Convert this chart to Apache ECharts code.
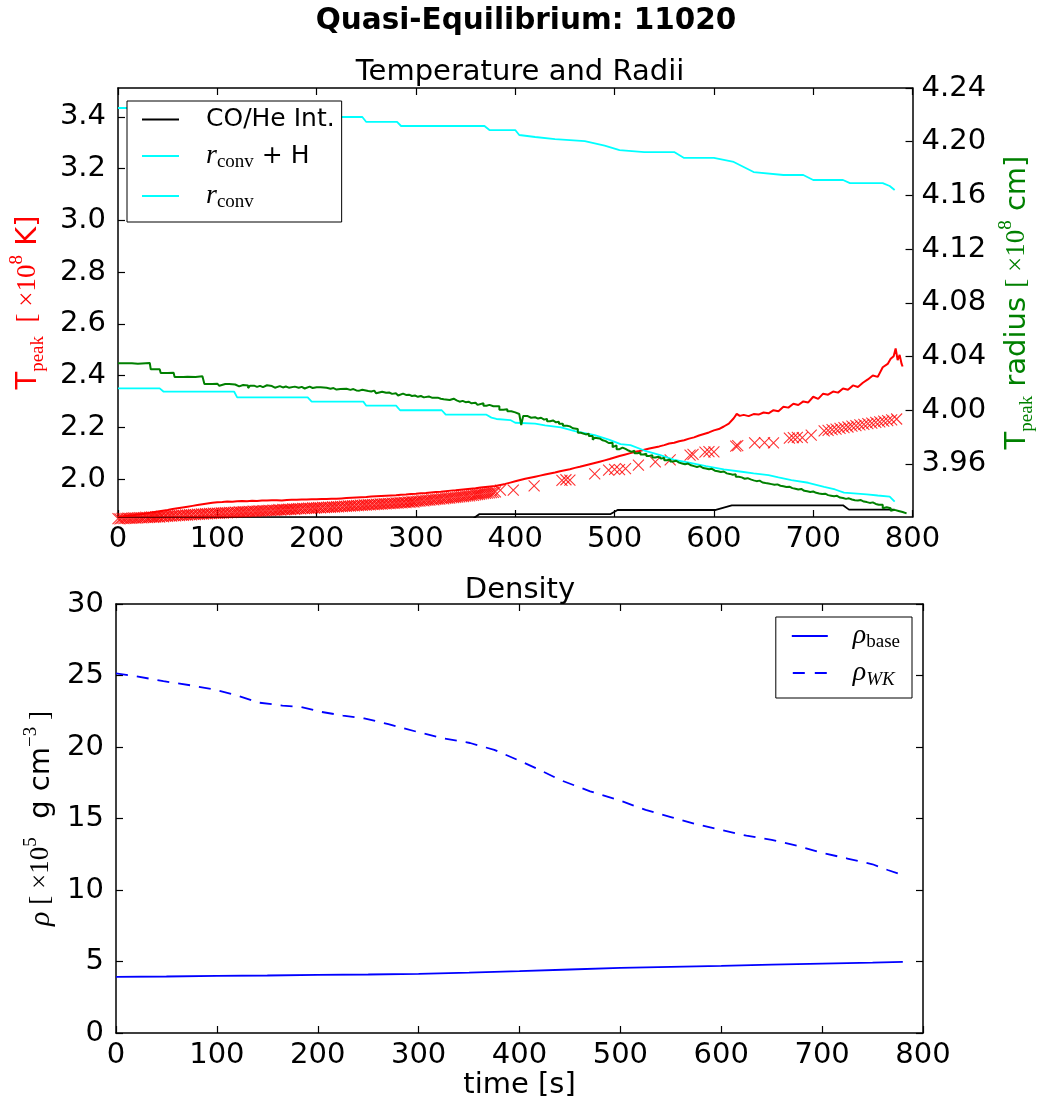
<!DOCTYPE html>
<html>
<head>
<meta charset="utf-8">
<script src="https://cdn.jsdelivr.net/npm/echarts@6/dist/echarts.min.js"></script>
<style>
html, body { margin: 0; padding: 0; background: #fff; }
#chart { width: 1045px; height: 1109px; }
</style>
</head>
<body>
<div id="chart"></div>
<script>
// ---- Temperature panel: peak temperature (left axis, 1e8 K) ----
const tempPeak = [
  [0,1.853],[5,1.855],[10,1.858],[15,1.860],[20,1.863],[25,1.865],[30,1.868],[35,1.871],[40,1.874],[45,1.877],
  [50,1.880],[55,1.884],[60,1.887],[65,1.890],[70,1.893],[75,1.896],[80,1.899],[85,1.902],[90,1.905],[95,1.908],
  [100,1.910],[105,1.911],[110,1.913],[115,1.912],[120,1.914],[125,1.915],[130,1.914],[135,1.916],[140,1.915],[145,1.917],
  [150,1.917],[155,1.918],[160,1.918],[165,1.917],[170,1.919],[175,1.920],[180,1.920],[185,1.921],[190,1.921],[195,1.922],
  [200,1.922],[205,1.923],[210,1.923],[215,1.924],[220,1.924],[225,1.925],[230,1.926],[235,1.927],[240,1.928],[245,1.929],
  [250,1.930],[255,1.932],[260,1.933],[265,1.934],[270,1.935],[275,1.936],[280,1.937],[285,1.939],[290,1.940],[295,1.942],
  [300,1.943],[305,1.945],[310,1.946],[315,1.948],[320,1.950],[325,1.951],[330,1.953],[335,1.955],[340,1.956],[345,1.958],
  [350,1.960],[355,1.962],[360,1.964],[365,1.967],[370,1.969],[375,1.971],[380,1.973],[385,1.977],[390,1.981],[395,1.986],
  [400,1.991],[405,1.996],[410,2.001],[415,2.005],[420,2.009],[425,2.013],[430,2.017],[435,2.021],[440,2.025],[445,2.030],
  [450,2.034],[455,2.038],[460,2.043],[465,2.047],[470,2.052],[475,2.057],[480,2.062],[485,2.067],[490,2.072],[495,2.077],
  [500,2.083],[505,2.089],[510,2.094],[515,2.099],[520,2.104],[525,2.108],[530,2.113],[535,2.118],[540,2.122],[545,2.126],
  [550,2.131],[555,2.137],[560,2.140],[565,2.146],[570,2.150],[575,2.156],[580,2.161],[585,2.168],[590,2.174],[595,2.180],
  [600,2.188],[605,2.193],[610,2.203],[615,2.214],[620,2.235],[623,2.252],[626,2.244],[630,2.248],[635,2.243],[640,2.251],
  [645,2.249],[650,2.257],[655,2.254],[660,2.266],[665,2.262],[670,2.279],[675,2.276],[680,2.291],[685,2.286],[690,2.300],
  [695,2.296],[700,2.318],[705,2.310],[710,2.330],[715,2.326],[720,2.338],[725,2.334],[730,2.350],[735,2.345],[740,2.362],
  [745,2.356],[750,2.372],[755,2.385],[760,2.400],[765,2.395],[770,2.432],[775,2.445],[778,2.465],[781,2.475],[783,2.505],
  [785,2.460],[787,2.480],[789,2.445],[790,2.435]
];

// Estimated peak temperature (cross markers, left axis)
const tempMarkers = [
  [0,1.847],[2,1.846],[4,1.848],[6,1.847],[8,1.848],[10,1.849],[12,1.848],[14,1.849],[16,1.850],[18,1.849],
  [20,1.850],[22,1.851],[24,1.850],[26,1.851],[28,1.852],[30,1.851],[32,1.852],[34,1.853],[36,1.852],[38,1.853],
  [40,1.854],[42,1.853],[44,1.855],[46,1.854],[48,1.856],[50,1.855],[52,1.857],[54,1.856],[56,1.858],[58,1.857],
  [60,1.859],[62,1.858],[64,1.860],[66,1.859],[68,1.861],[70,1.860],[72,1.862],[74,1.861],[76,1.863],[78,1.862],
  [80,1.864],[82,1.863],[84,1.865],[86,1.864],[88,1.866],[90,1.865],[92,1.867],[94,1.866],[96,1.868],[98,1.867],
  [100,1.868],[102,1.867],[104,1.869],[106,1.868],[108,1.870],[110,1.869],[112,1.871],[114,1.870],[116,1.871],[118,1.872],
  [120,1.871],[122,1.873],[124,1.872],[126,1.874],[128,1.873],[130,1.874],[132,1.875],[134,1.874],[136,1.876],[138,1.875],
  [140,1.876],[142,1.877],[144,1.876],[146,1.878],[148,1.877],[150,1.878],[152,1.879],[154,1.878],[156,1.880],[158,1.879],
  [160,1.880],[162,1.881],[164,1.880],[166,1.882],[168,1.881],[170,1.882],[172,1.883],[174,1.882],[176,1.884],[178,1.883],
  [180,1.884],[182,1.885],[184,1.884],[186,1.886],[188,1.885],[190,1.886],[192,1.887],[194,1.886],[196,1.888],[198,1.887],
  [200,1.888],[202,1.889],[204,1.888],[206,1.890],[208,1.889],[210,1.890],[212,1.891],[214,1.890],[216,1.892],[218,1.891],
  [220,1.893],[222,1.892],[224,1.894],[226,1.893],[228,1.895],[230,1.894],[232,1.896],[234,1.895],[236,1.897],[238,1.896],
  [240,1.898],[242,1.897],[244,1.899],[246,1.898],[248,1.900],[250,1.899],[252,1.901],[254,1.900],[256,1.902],[258,1.901],
  [260,1.903],[262,1.902],[264,1.904],[266,1.903],[268,1.905],[270,1.904],[272,1.906],[274,1.905],[276,1.907],[278,1.906],
  [280,1.908],[282,1.907],[284,1.909],[286,1.908],[288,1.910],[290,1.909],[292,1.911],[294,1.910],[296,1.912],[298,1.911],
  [300,1.913],[302,1.914],[304,1.914],[306,1.916],[308,1.915],[310,1.917],[312,1.918],[314,1.918],[316,1.920],[318,1.919],
  [320,1.921],[322,1.922],[324,1.922],[326,1.924],[328,1.923],[330,1.925],[332,1.926],[334,1.926],[336,1.928],[338,1.928],
  [340,1.929],[342,1.930],[344,1.931],[346,1.932],[348,1.932],[350,1.934],[352,1.935],[354,1.935],[356,1.937],[358,1.937],
  [360,1.939],[362,1.940],[364,1.941],[366,1.942],[368,1.943],[370,1.944],[372,1.945],[374,1.946],[376,1.947],[378,1.948],
  [380,1.950],
  [385,1.957],[398,1.957],[419,1.973],[447,1.995],[451,1.997],[455,1.996],[480,2.020],[494,2.034],[500,2.037],[505,2.036],
  [511,2.040],[524,2.054],[541,2.066],[556,2.074],[576,2.092],[579,2.095],[591,2.104],[595,2.106],[600,2.105],[622,2.127],
  [624,2.129],[641,2.140],[651,2.141],[660,2.140],[676,2.158],[680,2.160],[684,2.161],[689,2.160],[698,2.170],
  [711,2.186],[715,2.188],[719,2.191],[723,2.193],[727,2.196],[731,2.199],[735,2.201],[739,2.204],[743,2.206],[747,2.209],
  [751,2.211],[755,2.214],[759,2.216],[763,2.219],[767,2.221],[771,2.224],[775,2.226],[779,2.229],[784,2.232]
];

// ---- Radii (right axis, 1e8 cm) ----
const coHeInterface = [
  [0,3.9195],[358,3.9195],[364,3.9227],[496,3.9227],[503,3.9257],[601,3.9257],[618,3.9292],[730,3.9292],[736,3.9260],[782,3.9260]
];

const rConvPlusH = [
  [0,4.2251],[118,4.2251],[122,4.2184],[246,4.2184],[250,4.2147],[281,4.2147],[285,4.2117],[369,4.2117],[374,4.2087],
  [400,4.2087],[404,4.2050],[420,4.2035],[440,4.2020],[470,4.2005],[490,4.1970],[505,4.1938],[530,4.1923],[560,4.1923],
  [570,4.1879],[600,4.1879],[620,4.1849],[640,4.1774],[670,4.1752],[690,4.1752],[700,4.1715],[730,4.1715],[737,4.1692],
  [770,4.1692],[777,4.1670],[782,4.1640]
];

const rConv = [
  [0,4.0163],[42,4.0163],[46,4.0138],[117,4.0138],[120,4.0096],[191,4.0096],[195,4.0064],[247,4.0064],[250,4.0034],
  [280,4.0034],[284,4.0000],[326,4.0000],[330,3.9967],[371,3.9967],[376,3.9945],[381,3.9935],[395,3.9927],[400,3.9907],
  [420,3.9900],[430,3.9888],[446,3.9873],[460,3.9845],[480,3.9815],[495,3.9780],[506,3.9748],[516,3.9740],[530,3.9700],
  [546,3.9666],[560,3.9630],[575,3.9610],[592,3.9584],[610,3.9560],[628,3.9542],[640,3.9530],[655,3.9517],[665,3.9500],
  [678,3.9480],[695,3.9460],[711,3.9430],[722,3.9410],[731,3.9386],[754,3.9374],[765,3.9365],[777,3.9356],[782,3.9319]
];

const tPeakRadius = [
  [0,4.0350],[10,4.0350],[14,4.0346],[20,4.0352],[32,4.0350],[33,4.0305],[42,4.0305],[43,4.0277],[50,4.0280],[56,4.0277],[57,4.0247],
  [66,4.0250],[70,4.0247],[78,4.0247],[80,4.0253],[85,4.0247],[87,4.0195],[90,4.0186],[92,4.0196],[95,4.0198],[100,4.0195],[102,4.0182],[104,4.0195],
  [108,4.0188],[110,4.0196],[112,4.0192],[118,4.0190],[120,4.0178],[122,4.0188],[126,4.0181],[128,4.0185],[131,4.0165],[133,4.0183],[137,4.0174],[140,4.0182],
  [143,4.0172],[146,4.0186],[150,4.0176],[152,4.0180],[155,4.0168],[158,4.0172],[160,4.0180],[163,4.0170],[166,4.0177],[169,4.0168],[172,4.0166],[174,4.0176],
  [178,4.0168],[182,4.0174],[185,4.0162],[188,4.0168],[190,4.0176],[193,4.0166],[196,4.0172],[200,4.0165],[202,4.0172],
  [204,4.0158],[206,4.0168],[210,4.0160],[214,4.0165],[217,4.0154],[220,4.0158],[224,4.0146],[226,4.0160],[230,4.0152],[234,4.0158],[237,4.0148],[240,4.0146],[243,4.0153],[246,4.0144],[252,4.0140],
  [255,4.0146],[258,4.0138],[260,4.0126],[262,4.0138],[266,4.0130],[270,4.0132],[273,4.0122],[276,4.0126],[280,4.0122],[282,4.0110],[284,4.0124],[287,4.0114],[290,4.0116],[293,4.0106],[296,4.0110],
  [299,4.0100],[302,4.0106],[305,4.0096],[308,4.0102],[313,4.0094],[316,4.0082],[318,4.0094],[322,4.0086],[325,4.0082],[328,4.0072],[330,4.0076],[334,4.0086],[338,4.0074],[341,4.0064],[344,4.0070],
  [347,4.0060],[350,4.0064],[353,4.0052],[356,4.0056],[360,4.0050],[362,4.0040],[364,4.0052],[368,4.0034],[371,4.0040],[374,4.0030],[378,4.0016],[380,4.0030],[384,4.0004],
  [388,3.9998],[390,4.0008],[392,3.9992],[396,3.9984],[400,3.9972],[404,3.9960],[406,3.9890],[408,3.9958],[412,3.9944],[416,3.9948],[420,3.9938],
  [423,3.9944],[426,3.9930],[429,3.9936],[432,3.9918],[435,3.9924],[438,3.9910],[441,3.9915],[444,3.9900],[448,3.9885],[452,3.9880],[455,3.9866],[458,3.9860],[463,3.9832],[466,3.9838],[468,3.9820],[471,3.9826],[474,3.9808],
  [478,3.9780],[480,3.9796],[482,3.9790],[485,3.9776],[488,3.9770],[491,3.9756],[494,3.9745],[496,3.9758],[498,3.9725],[500,3.9738],[502,3.9710],[505,3.9722],[508,3.9712],[511,3.9700],[514,3.9690],[517,3.9698],[520,3.9680],[523,3.9686],[526,3.9670],
  [529,3.9676],[532,3.9660],[535,3.9666],[538,3.9648],[541,3.9654],[544,3.9640],[547,3.9646],[550,3.9628],[553,3.9634],[556,3.9618],[559,3.9624],[562,3.9610],[565,3.9604],[568,3.9598],[571,3.9603],[574,3.9590],[577,3.9584],[580,3.9578],[583,3.9584],[586,3.9570],
  [589,3.9566],[592,3.9560],[595,3.9564],[598,3.9550],[601,3.9546],[604,3.9540],[607,3.9544],[610,3.9530],[613,3.9526],[616,3.9520],[619,3.9524],[622,3.9505],[625,3.9500],[628,3.9490],[631,3.9494],[634,3.9485],[637,3.9478],[640,3.9472],[643,3.9476],[646,3.9462],
  [649,3.9458],[652,3.9455],[655,3.9450],[658,3.9445],[661,3.9448],[664,3.9438],[667,3.9434],[670,3.9428],[673,3.9431],[676,3.9420],[679,3.9416],[682,3.9410],[685,3.9414],[688,3.9400],[691,3.9396],[694,3.9392],[697,3.9395],[700,3.9385],[703,3.9380],[706,3.9376],
  [709,3.9379],[712,3.9368],[715,3.9364],[718,3.9360],[721,3.9363],[724,3.9350],[727,3.9346],[730,3.9340],[733,3.9344],[736,3.9335],[739,3.9330],[742,3.9328],[745,3.9331],[748,3.9320],[751,3.9316],[754,3.9310],[757,3.9314],[760,3.9302],[763,3.9296],[766,3.9290],
  [768,3.9296],[770,3.9270],[772,3.9278],[774,3.9265],[776,3.9270],[778,3.9252],[780,3.9258],[782,3.9245],[784,3.9250],[786,3.9238],[788,3.9242],[790,3.9232],[794,3.9230]
];

// ---- Density panel (1e5 g cm^-3) ----
const rhoBase = [
  [0,3.92],[50,3.95],[100,3.99],[150,4.02],[200,4.06],[250,4.09],[300,4.13],[350,4.22],[400,4.32],
  [450,4.44],[500,4.55],[550,4.63],[600,4.70],[650,4.78],[700,4.85],[750,4.92],[780,4.98]
];
const rhoWK = [
  [0,25.15],[20,24.95],[47,24.6],[75,24.3],[99,24.0],[120,23.6],[142,23.1],[165,22.9],[183,22.8],[204,22.45],
  [225,22.2],[246,22.0],[270,21.6],[299,21.05],[325,20.6],[351,20.28],[375,19.8],[398,19.1],[420,18.4],[440,17.7],
  [470,16.9],[498,16.3],[525,15.6],[550,15.1],[575,14.6],[600,14.2],[625,13.8],[650,13.5],[675,13.1],[700,12.6],
  [725,12.2],[750,11.8],[765,11.4],[780,11.05]
];

// Tick labels
const timeTicks = { min: 0, max: 800, step: 100 };
const tempTickLabels = [2.0, 2.2, 2.4, 2.6, 2.8, 3.0, 3.2, 3.4];
const radiusTickLabels = [3.96, 4.00, 4.04, 4.08, 4.12, 4.16, 4.20, 4.24];
const rhoTicks = { min: 0, max: 30, step: 5 };

const SANS = 'DejaVu Sans';
const SERIF = 'Liberation Serif';
const FS = 29;

function axisNameRich(color) {
  return {
    t:   { fontFamily: SANS, fontSize: FS, lineHeight: 40, color: color },
    sub: { fontFamily: SERIF, fontSize: 19, lineHeight: 18, verticalAlign: 'bottom', color: color },
    m:   { fontFamily: SERIF, fontSize: 27, lineHeight: 40, color: color },
    mi:  { fontFamily: SERIF, fontStyle: 'italic', fontSize: 30, lineHeight: 40, color: color },
    sup: { fontFamily: SERIF, fontSize: 19, lineHeight: 26, verticalAlign: 'top', color: color }
  };
}

const legendRich = {
  s:   { fontFamily: SANS, fontSize: 25, lineHeight: 32, color: '#000' },
  r:   { fontFamily: SERIF, fontStyle: 'italic', fontSize: 28, lineHeight: 32, color: '#000' },
  sub: { fontFamily: SERIF, fontSize: 19, lineHeight: 14, verticalAlign: 'bottom', color: '#000' },
  subi:{ fontFamily: SERIF, fontStyle: 'italic', fontSize: 19, lineHeight: 14, verticalAlign: 'bottom', color: '#000' }
};
const legendLabels = {
  'CO/He Int.': '{s|CO/He Int.}',
  'r_conv + H': '{r|r}{sub|conv}{s| + H}',
  'r_conv': '{r|r}{sub|conv}',
  'ρ_base': '{r|ρ}{sub|base}',
  'ρ_WK': '{r|ρ}{subi|WK}'
};

const solidIcon = 'path://M0,0H37V2H0Z';
const dashIcon = 'path://M0,0H12V2H0Z M22,0H34V2H22Z';

const axisLineStyle = { color: '#000', width: 1.5 };
const tickStyle = { show: true, inside: true, length: 7, lineStyle: { color: '#000', width: 1.2 } };
const labelStyle = { fontFamily: SANS, fontSize: FS, color: '#000' };

function timeAxis(grid, pos, showLabels, extra) {
  return Object.assign({
    type: 'value', gridIndex: grid, position: pos,
    min: timeTicks.min, max: timeTicks.max, interval: timeTicks.step,
    axisLine: { show: true, onZero: false, lineStyle: axisLineStyle },
    axisTick: tickStyle,
    axisLabel: Object.assign({ show: showLabels, margin: 8 }, labelStyle),
    splitLine: { show: false }
  }, extra || {});
}

const option = {
  animation: false,
  backgroundColor: '#fff',
  graphic: [
    { type: 'text', x: 526, y: 21, style: { text: 'Quasi-Equilibrium: 11020', fontFamily: SANS, fontWeight: 'bold', fontSize: 29.5, fill: '#000', align: 'center', verticalAlign: 'middle' } },
    { type: 'text', x: 520, y: 72, style: { text: 'Temperature and Radii', fontFamily: SANS, fontSize: FS, fill: '#000', align: 'center', verticalAlign: 'middle' } },
    { type: 'text', x: 520, y: 590, style: { text: 'Density', fontFamily: SANS, fontSize: FS, fill: '#000', align: 'center', verticalAlign: 'middle' } }
  ],
  grid: [
    { left: 116, right: 122, top: 88, height: 429, show: false },
    { left: 116, right: 122, top: 604, height: 429, show: false }
  ],
  xAxis: [
    timeAxis(0, 'bottom', true),
    timeAxis(0, 'top', false),
    timeAxis(1, 'bottom', true, {
      name: 'time [s]', nameLocation: 'middle', nameGap: 38,
      nameTextStyle: { fontFamily: SANS, fontSize: FS, color: '#000' }
    }),
    timeAxis(1, 'top', false)
  ],
  yAxis: [
    {
      type: 'value', gridIndex: 0, position: 'left', min: 1.853, max: 3.512,
      axisLine: { show: true, onZero: false, lineStyle: axisLineStyle },
      axisTick: Object.assign({ customValues: tempTickLabels }, tickStyle),
      axisLabel: Object.assign({ customValues: tempTickLabels, margin: 12, formatter: v => v.toFixed(1) }, labelStyle),
      splitLine: { show: false },
      name: '{t|T}{sub|peak}{m|  [ ×10}{sup|8}{t| K]}',
      nameLocation: 'middle', nameRotate: 90, nameGap: 70,
      nameTextStyle: { rich: axisNameRich('#ff0000') }
    },
    {
      type: 'value', gridIndex: 0, position: 'right', min: 3.9205, max: 4.24,
      axisLine: { show: true, onZero: false, lineStyle: axisLineStyle },
      axisTick: Object.assign({ customValues: radiusTickLabels }, tickStyle),
      axisLabel: Object.assign({ customValues: radiusTickLabels, margin: 9, formatter: v => v.toFixed(2) }, labelStyle),
      splitLine: { show: false },
      name: '{t|T}{sub|peak}{t| radius }{m|[ ×10}{sup|8}{t| cm]}',
      nameLocation: 'middle', nameRotate: 90, nameGap: 81,
      nameTextStyle: { rich: axisNameRich('#008000') }
    },
    {
      type: 'value', gridIndex: 1, position: 'left', min: rhoTicks.min, max: rhoTicks.max, interval: rhoTicks.step,
      axisLine: { show: true, onZero: false, lineStyle: axisLineStyle },
      axisTick: tickStyle,
      axisLabel: Object.assign({ margin: 12 }, labelStyle),
      splitLine: { show: false },
      name: '{mi|ρ}{m| [ ×10}{sup|5}{t|  g cm}{sup|−3}{m| ]}',
      nameLocation: 'middle', nameRotate: 90, nameGap: 54,
      nameTextStyle: { rich: axisNameRich('#000') }
    },
    {
      type: 'value', gridIndex: 1, position: 'right', min: rhoTicks.min, max: rhoTicks.max, interval: rhoTicks.step,
      axisLine: { show: true, onZero: false, lineStyle: axisLineStyle },
      axisTick: tickStyle,
      axisLabel: { show: false },
      splitLine: { show: false }
    }
  ],
  legend: [
    {
      orient: 'vertical', left: 127, top: 101,
      data: [
        { name: 'CO/He Int.', icon: solidIcon },
        { name: 'r_conv + H', icon: solidIcon },
        { name: 'r_conv', icon: solidIcon }
      ],
      itemWidth: 37, itemHeight: 2, itemGap: 10,
      padding: [6, 7, 10, 15],
      backgroundColor: '#fff', borderColor: '#000', borderWidth: 1, borderRadius: 0,
      textStyle: { rich: legendRich, padding: [0, 0, 0, 22] },
      formatter: name => legendLabels[name],
      selectedMode: false
    },
    {
      orient: 'vertical', right: 133, top: 617,
      data: [
        { name: 'ρ_base', icon: solidIcon },
        { name: 'ρ_WK', icon: dashIcon }
      ],
      itemWidth: 36, itemHeight: 2, itemGap: 7,
      padding: [5, 12, 9, 16],
      backgroundColor: '#fff', borderColor: '#000', borderWidth: 1, borderRadius: 0,
      textStyle: { rich: legendRich, padding: [0, 0, 0, 20] },
      formatter: name => legendLabels[name],
      selectedMode: false
    }
  ],
  series: [
    {
      name: 'T_peak', type: 'line', xAxisIndex: 0, yAxisIndex: 0, data: tempPeak,
      symbol: 'none', lineStyle: { color: '#ff0000', width: 2 }, itemStyle: { color: '#ff0000' }
    },
    {
      name: 'T_peak estimate', type: 'scatter', xAxisIndex: 0, yAxisIndex: 0, data: tempMarkers,
      symbol: 'path://M0,0L10,10M10,0L0,10', symbolSize: 11, clip: false,
      itemStyle: { color: 'rgba(0,0,0,0)', borderColor: '#ff0000', borderWidth: 1.1 }
    },
    {
      name: 'CO/He Int.', type: 'line', xAxisIndex: 0, yAxisIndex: 1, data: coHeInterface,
      symbol: 'none', lineStyle: { color: '#000', width: 1.8 }, itemStyle: { color: '#000' }
    },
    {
      name: 'r_conv + H', type: 'line', xAxisIndex: 0, yAxisIndex: 1, data: rConvPlusH,
      symbol: 'none', lineStyle: { color: '#00ffff', width: 1.8 }, itemStyle: { color: '#00ffff' }
    },
    {
      name: 'r_conv', type: 'line', xAxisIndex: 0, yAxisIndex: 1, data: rConv,
      symbol: 'none', lineStyle: { color: '#00ffff', width: 1.8 }, itemStyle: { color: '#00ffff' }
    },
    {
      name: 'T_peak radius', type: 'line', xAxisIndex: 0, yAxisIndex: 1, data: tPeakRadius,
      symbol: 'none', step: 'end', lineStyle: { color: '#008000', width: 2 }, itemStyle: { color: '#008000' }
    },
    {
      name: 'ρ_base', type: 'line', xAxisIndex: 2, yAxisIndex: 2, data: rhoBase,
      symbol: 'none', lineStyle: { color: '#0000ff', width: 1.8 }, itemStyle: { color: '#0000ff' }
    },
    {
      name: 'ρ_WK', type: 'line', xAxisIndex: 2, yAxisIndex: 2, data: rhoWK,
      symbol: 'none', lineStyle: { color: '#0000ff', width: 1.8, type: [12, 9] }, itemStyle: { color: '#0000ff' }
    }
  ]
};

const chart = echarts.init(document.getElementById('chart'), null, { renderer: 'canvas' });
chart.setOption(option);
</script>
</body>
</html>
